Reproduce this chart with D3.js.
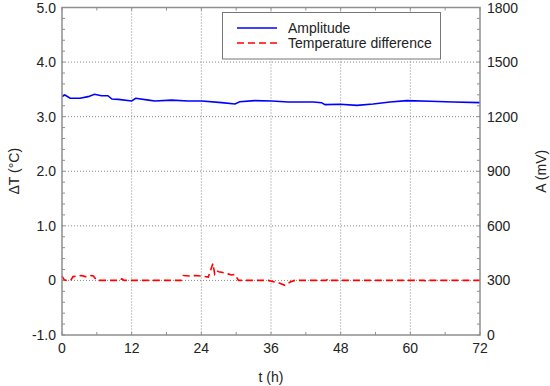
<!DOCTYPE html>
<html>
<head>
<meta charset="utf-8">
<script src="https://cdn.jsdelivr.net/npm/d3@7/dist/d3.min.js"></script>
<style>
  body { margin: 0; background: #fff; }
  text { font-family: "Liberation Sans", Arial, sans-serif; fill: #222; }
</style>
</head>
<body>
<div id="chart"></div>
<script>
// amplitude (mV, right axis)
var ampTime = [0, 0.5, 1.4, 3.1, 4.5, 5.6, 6.8, 7.9, 8.6, 9.7, 12.0, 12.7, 14.9, 16.0, 18.9, 21.7, 24.1, 27.5, 29.8, 30.6, 33.2, 36.1, 39.0, 41.5, 43.3, 44.7, 45.3, 47.9, 50.8, 53.6, 56.5, 59.4, 63.4, 67.4, 72];
var ampValues = [1310, 1319, 1301, 1301, 1310, 1323, 1315, 1315, 1297, 1295, 1286, 1301, 1291, 1286, 1291, 1286, 1286, 1277, 1270, 1282, 1288, 1286, 1281, 1281, 1281, 1277, 1266, 1268, 1262, 1270, 1281, 1288, 1285, 1281, 1277];

// temperature difference (°C, left axis)
var tempTime = [0, 0.4, 0.8, 1.5, 1.9, 2.6, 3.4, 4.0, 4.5, 5.0, 5.4, 6.0, 10.0, 10.3, 10.7, 20.5, 20.9, 22.0, 22.9, 24.1, 25.2, 25.7, 26.0, 26.3, 26.6, 27.0, 27.5, 28.6, 29.2, 29.8, 30.4, 35.5, 36.7, 37.5, 38.4, 39.3, 40.1, 45.5, 45.9, 46.3, 62.4, 62.8, 63.2, 72];
var tempValues = [0.08, 0.01, 0, 0, 0.07, 0.08, 0.09, 0.07, 0.07, 0.09, 0.08, 0, 0, 0.03, 0, 0, 0.09, 0.08, 0.09, 0.08, 0.06, 0.22, 0.31, 0.12, 0.18, 0.16, 0.15, 0.12, 0.10, 0.11, 0, 0, -0.03, -0.05, -0.09, -0.03, 0, 0, 0.03, 0, 0, -0.02, 0, 0];

var xTicks = [0, 12, 24, 36, 48, 60, 72];
var leftTicks = [-1, 0, 1, 2, 3, 4, 5];
var leftTickLabels = ["-1.0", "0", "1.0", "2.0", "3.0", "4.0", "5.0"];
var rightTicks = [0, 300, 600, 900, 1200, 1500, 1800];
var seriesNames = ["Amplitude", "Temperature difference"];

var width = 550, height = 386;
var plotL = 62, plotR = 480, plotT = 7.5, plotB = 335;
var frameColor = "#8f8f8f";

var svg = d3.select("#chart").append("svg")
    .attr("width", width)
    .attr("height", height);

var x = d3.scaleLinear().domain([0, 72]).range([plotL, plotR]);
var yL = d3.scaleLinear().domain([-1, 5]).range([plotB, plotT]);
var yR = d3.scaleLinear().domain([0, 1800]).range([plotB, plotT]);

// grid
svg.selectAll(".vgrid")
    .data(xTicks.slice(1, -1))
    .enter().append("line")
    .attr("x1", d => x(d)).attr("x2", d => x(d))
    .attr("y1", plotT).attr("y2", plotB)
    .attr("stroke", "#888").attr("stroke-width", 1)
    .attr("stroke-dasharray", "1,2");
svg.selectAll(".hgrid")
    .data(leftTicks.slice(1, -1))
    .enter().append("line")
    .attr("x1", plotL).attr("x2", plotR)
    .attr("y1", d => yL(d)).attr("y2", d => yL(d))
    .attr("stroke", "#888").attr("stroke-width", 1)
    .attr("stroke-dasharray", "1,2");

// minor ticks (inward)
var minorY = d3.range(-1, 5.001, 0.2);
svg.selectAll(".mtl").data(minorY).enter().append("line")
    .attr("x1", plotL).attr("x2", plotL + 3)
    .attr("y1", d => yL(d)).attr("y2", d => yL(d))
    .attr("stroke", frameColor);
svg.selectAll(".mtr").data(minorY).enter().append("line")
    .attr("x1", plotR - 3).attr("x2", plotR)
    .attr("y1", d => yL(d)).attr("y2", d => yL(d))
    .attr("stroke", frameColor);
var minorX = d3.range(0, 72.001, 6);
svg.selectAll(".mtb").data(minorX).enter().append("line")
    .attr("x1", d => x(d)).attr("x2", d => x(d))
    .attr("y1", plotB - 3).attr("y2", plotB)
    .attr("stroke", frameColor);
svg.selectAll(".mtt").data(minorX).enter().append("line")
    .attr("x1", d => x(d)).attr("x2", d => x(d))
    .attr("y1", plotT).attr("y2", plotT + 3)
    .attr("stroke", frameColor);

// series
var ampLine = d3.line()
    .x((d, i) => x(ampTime[i]))
    .y(d => yR(d));
svg.append("path")
    .attr("d", ampLine(ampValues))
    .attr("fill", "none")
    .attr("stroke", "#0000ff")
    .attr("stroke-width", 1.6);

var tempLine = d3.line()
    .x((d, i) => x(tempTime[i]))
    .y(d => yL(d));
svg.append("path")
    .attr("d", tempLine(tempValues))
    .attr("fill", "none")
    .attr("stroke", "#ff0000")
    .attr("stroke-width", 1.6)
    .attr("stroke-dasharray", "7,4");

// frame
svg.append("rect")
    .attr("x", plotL).attr("y", plotT)
    .attr("width", plotR - plotL).attr("height", plotB - plotT)
    .attr("fill", "none")
    .attr("stroke", frameColor)
    .attr("stroke-width", 1.5);

// tick labels
svg.selectAll(".xl").data(xTicks).enter().append("text")
    .attr("x", d => x(d)).attr("y", plotB + 18)
    .attr("text-anchor", "middle")
    .style("font-size", "14px")
    .text(d => d);
svg.selectAll(".yl").data(leftTicks).enter().append("text")
    .attr("x", plotL - 6).attr("y", d => yL(d) + 5)
    .attr("text-anchor", "end")
    .style("font-size", "14px")
    .text((d, i) => leftTickLabels[i]);
svg.selectAll(".yr").data(rightTicks).enter().append("text")
    .attr("x", plotR + 7).attr("y", d => yR(d) + 5)
    .attr("text-anchor", "start")
    .style("font-size", "14px")
    .text(d => d);

// axis titles
svg.append("text")
    .attr("transform", "translate(19," + ((plotT + plotB) / 2) + ") rotate(-90)")
    .attr("text-anchor", "middle")
    .style("font-size", "14px")
    .text("\u0394T (\u00b0C)");
svg.append("text")
    .attr("transform", "translate(546," + ((plotT + plotB) / 2) + ") rotate(-90)")
    .attr("text-anchor", "middle")
    .style("font-size", "14px")
    .text("A (mV)");
svg.append("text")
    .attr("x", (plotL + plotR) / 2).attr("y", 382)
    .attr("text-anchor", "middle")
    .style("font-size", "14px")
    .text("t (h)");

// legend
var lg = svg.append("g");
lg.append("rect")
    .attr("x", 222.5).attr("y", 12.5)
    .attr("width", 218).attr("height", 46.5)
    .attr("fill", "#fff")
    .attr("stroke", "#777");
var legendColors = ["#0000ff", "#ff0000"];
var legendDash = [null, "7,4"];
seriesNames.forEach(function(name, i) {
    var ly = 28 + i * 15;
    lg.append("line")
        .attr("x1", 237).attr("x2", 277)
        .attr("y1", ly).attr("y2", ly)
        .attr("stroke", legendColors[i])
        .attr("stroke-width", 1.6)
        .attr("stroke-dasharray", legendDash[i]);
    lg.append("text")
        .attr("x", 288).attr("y", ly + 5)
        .style("font-size", "14px")
        .text(name);
});
</script>
</body>
</html>
